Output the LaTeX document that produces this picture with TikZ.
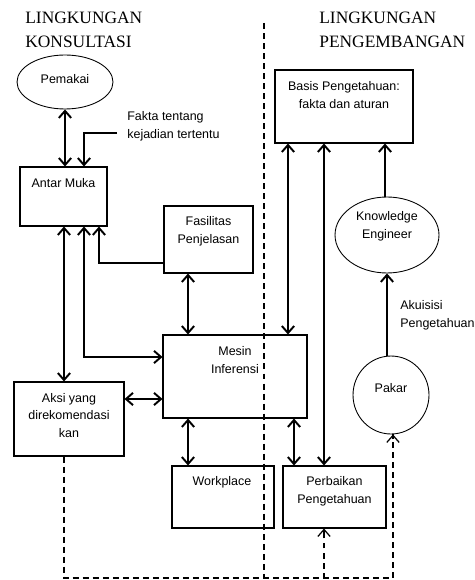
\documentclass[tikz,border=0pt]{standalone}
\usepackage{fontspec}
\setmainfont{Liberation Serif}
\setsansfont{Liberation Sans}
\usetikzlibrary{arrows.meta}
\usetikzlibrary{shapes.geometric}
\usetikzlibrary{fit,calc}

\begin{document}
\begin{tikzpicture}[x=0.02cm, y=-0.02cm,
  box/.style={draw, line width=0.6pt, inner sep=0pt},
  oval/.style={draw, ellipse, line width=0.5pt, inner sep=0pt},
  txt/.style={font=\sffamily\fontsize{7.1}{10.2}\selectfont, align=center, inner sep=0pt},
  txtl/.style={txt, align=left, anchor=west},
  head/.style={font=\fontsize{9.9}{13.6}\selectfont, align=left, anchor=west, inner sep=0pt},
  arr/.style={line width=1.1pt, -{Straight Barb[length=4pt,width=7pt]}},
  darr/.style={line width=1.1pt, {Straight Barb[length=4pt,width=7pt]}-{Straight Barb[length=4pt,width=7pt]}},
  dashline/.style={line width=0.7pt, dash pattern=on 3.4pt off 2.3pt}]

  \useasboundingbox (0,0) rectangle (475,580);

  % headings and divider
  \node[head] (headL) at (25,30) {LINGKUNGAN\\KONSULTASI};
  \node[head] (headR) at (319,30) {LINGKUNGAN\\PENGEMBANGAN};
  \coordinate (divtop) at (264,23);
  \coordinate (divbot) at (264,578);
  \draw[dashline] (divtop) -- (divbot);

  % left side
  \node[oval, minimum width=1.92cm, minimum height=1.08cm] (pemakai) at (65,82) {};
  \node[txt] (pemakaiT) at (65,79) {Pemakai};

  \node[box, fit={(20,167) (107,226)}] (antar) {};
  \node[txt] (antarT) at (63.5,183) {Antar Muka};

  \node[txtl] (fakta) at (127,126) {Fakta tentang\\kejadian tertentu};
  \coordinate (faktaend) at (117,133);

  \node[box, fit={(164,206) (253,273)}] (fasil) {};
  \node[txt] (fasilT) at (208.5,231.5) {Fasilitas\\Penjelasan};

  \node[box, fit={(163,335) (307,418)}] (mesin) {};
  \node[txt] (mesinT) at (235,360.5) {Mesin\\Inferensi};

  \node[box, fit={(14,382) (124,456)}] (aksi) {};
  \node[txt] (aksiT) at (69,415.5) {Aksi yang\\direkomendasi\\kan};

  \node[box, fit={(172,466) (274,528)}] (work) {};
  \node[txt] (workT) at (222,482) {Workplace};

  % right side
  \node[box, fit={(275,70) (413,143)}] (basis) {};
  \node[txt] (basisT) at (344,95.5) {Basis Pengetahuan:\\fakta dan aturan};

  \node[oval, minimum width=2.08cm, minimum height=1.52cm] (ke) at (387,235) {};
  \node[txt] (keT) at (387,226.5) {Knowledge\\Engineer};

  \node[txtl] (akuisisi) at (400,315.5) {Akuisisi\\Pengetahuan};

  \node[oval, minimum width=1.52cm, minimum height=1.56cm] (pakar) at (391,395) {};
  \node[txt] (pakarT) at (391,388) {Pakar};

  \node[box, fit={(283,466) (386,528)}] (perb) {};
  \node[txt] (perbT) at (334.5,491) {Perbaikan\\Pengetahuan};

  % connectors
  \draw[darr] (pemakai.south) -- (pemakai.south |- antar.north);
  \draw[arr] (faktaend) -| ($(antar.north)+(20.5,0)$);
  \draw[arr] ($(fasil.south west)+(0,-10.5)$) -| ($(antar.south)+(35.5,0)$);
  \draw[darr] ($(antar.south)+(0.5,0)$) coordinate (a0) -- (a0 |- aksi.north);
  \draw[darr] ($(antar.south)+(20.5,0)$) |- ($(mesin.west)+(0,-19.5)$);
  \draw[darr] ($(fasil.south)+(-20.5,0)$) coordinate (f1) -- (f1 |- mesin.north);
  \draw[darr] ($(aksi.east)+(0,-20)$) coordinate (k1) -- (k1 -| mesin.west);
  \draw[darr] ($(mesin.south)+(-47,0)$) coordinate (m1) -- (m1 |- work.north);
  \draw[darr] ($(mesin.south)+(59,0)$) coordinate (m2) -- (m2 |- perb.north);
  \draw[darr] ($(basis.south)+(-56,0)$) coordinate (b1) -- (b1 |- mesin.north);
  \draw[darr] ($(basis.south)+(-20,0)$) coordinate (b2) -- (b2 |- perb.north);
  \draw[arr] ($(ke.north)+(-2,0)$) coordinate (e1) -- (e1 |- basis.south);
  \draw[arr] (ke.south |- pakar.north) -- (ke.south);

  % dashed feedback, tips drawn solid
  \coordinate (dashcorner) at (64,578);
  \draw[dashline] ($(aksi.south)+(-5,0)$) -- (dashcorner) -| ($(pakar.south)+(2,0)$) coordinate (q1);
  \draw[dashline] ($(perb.south)+(-10.5,0)$) coordinate (p1) ++(0,50) -- (p1);
  \draw[line width=0.7pt, -{Straight Barb[length=4pt,width=7pt]}] ($(q1)+(0,5)$) -- (q1);
  \draw[line width=0.7pt, -{Straight Barb[length=4pt,width=7pt]}] ($(p1)+(0,5)$) -- (p1);

\end{tikzpicture}
\end{document}
